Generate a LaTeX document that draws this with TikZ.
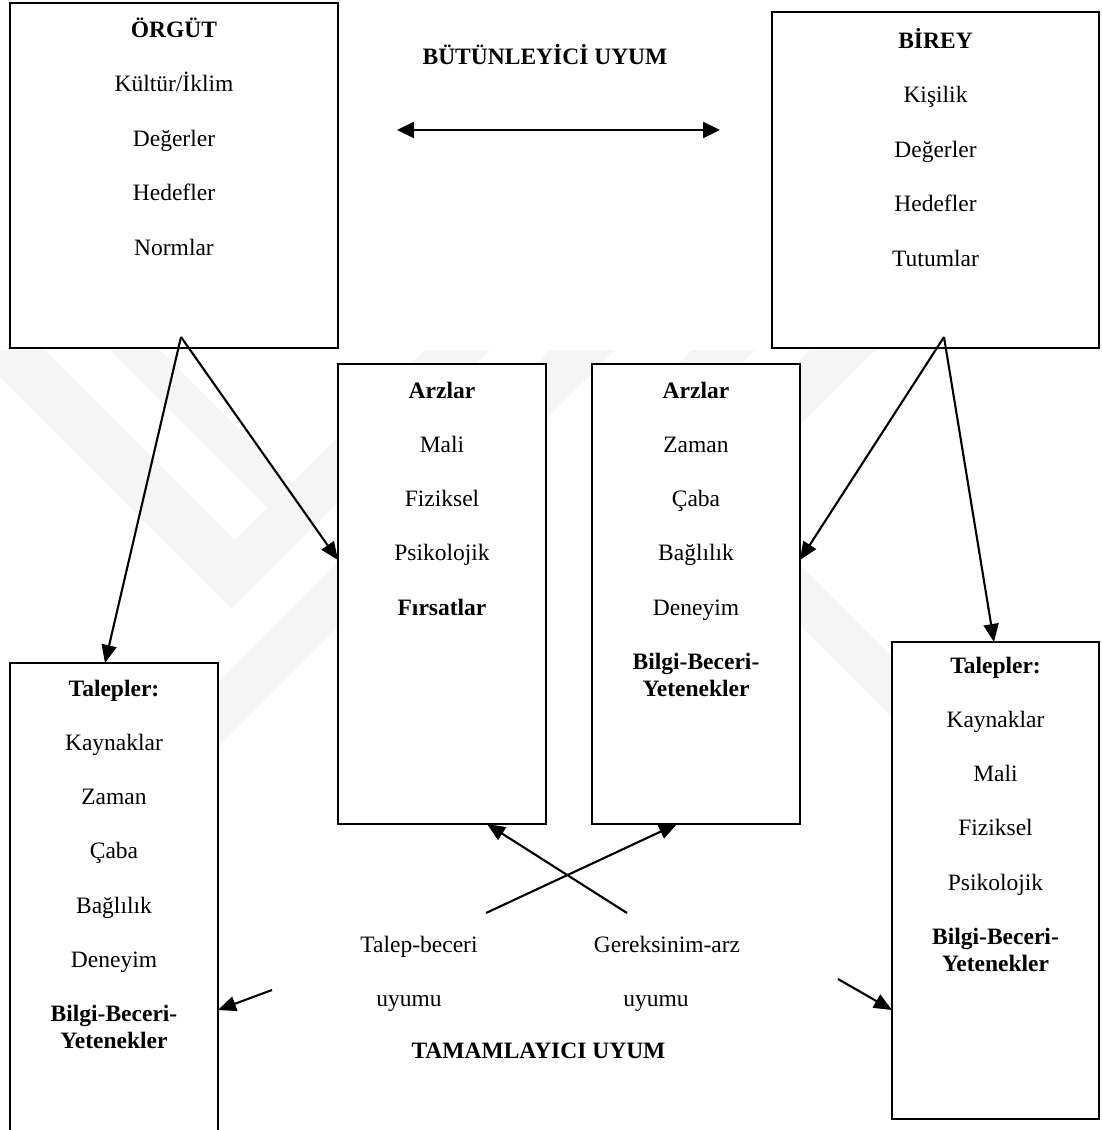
\documentclass[tikz,border=0pt]{standalone}
\usepackage{fontspec}
\setmainfont{Liberation Serif}
\usetikzlibrary{arrows.meta}
\begin{document}
\begin{tikzpicture}[x=1pt,y=-1pt,
  box/.style={draw, line width=1.9pt, fill=white, rectangle, inner sep=0pt, outer sep=0pt},
  lbl/.style={anchor=base, inner sep=0pt, font=\fontsize{23.5}{28}\selectfont},
  hd/.style={anchor=base, inner sep=0pt, font=\fontsize{23.5}{28}\selectfont\bfseries},
  arr/.style={line width=2.1pt, -{Triangle[length=18pt,width=15pt]}},
  dbl/.style={line width=2.3pt, {Triangle[length=17pt,width=16pt]}-{Triangle[length=17pt,width=16pt]}},
  wm/.style={fill=black!4}
]
\useasboundingbox (0,0) rectangle (1101,1130);
\clip (0,0) rectangle (1101,1130);
\fill[white] (0,0) rectangle (1101,1130);

% faint background emblem
\fill[wm] (0,350) -- (45,350) -- (235,540) -- (199,576) -- (0,377) -- cycle;
\fill[wm] (110,350) -- (160,350) -- (292.5,482.5) -- (267.5,507.5) -- cycle;
\fill[wm] (425,350) -- (490,350) -- (231.5,608.5) -- (199,576) -- cycle;
\fill[wm] (550,350) -- (615,350) -- (205,760) -- (140,760) -- cycle;
\fill[wm] (692,350) -- (755,350) -- (665,440) -- (602,440) -- cycle;
\fill[wm] (810,350) -- (875,350) -- (725,500) -- (660,500) -- cycle;
\fill[wm] (700,465) -- (995,760) -- (935,760) -- (700,525) -- cycle;

% boxes
\node[box, minimum width=328pt, minimum height=345pt] (org) at (174,175.5) {};
\node[box, minimum width=327pt, minimum height=336pt] (bir) at (935.5,180) {};
\node[box, minimum width=208pt, minimum height=460pt] (ofa) at (442,594) {};
\node[box, minimum width=208pt, minimum height=460pt] (ofb) at (696,594) {};
\node[box, minimum width=208pt, minimum height=500pt] (dml) at (114,913) {};
\node[box, minimum width=207pt, minimum height=477pt] (dmr) at (995.5,880.5) {};

% organisation
\node[hd] (org-h) at (174,37) {ÖRGÜT};
\foreach \t [count=\i] in {Kültür/İklim, Değerler, Hedefler, Normlar}
  \node[lbl] (org-\i) at (174, 37+54.5*\i) {\t};

% individual
\node[hd] (bir-h) at (935.5,48) {BİREY};
\foreach \t [count=\i] in {Kişilik, Değerler, Hedefler, Tutumlar}
  \node[lbl] (bir-\i) at (935.5, 48+54.5*\i) {\t};

% supplies of the organisation
\node[hd] (ofa-h) at (442,398) {Arzlar};
\foreach \t [count=\i] in {Mali, Fiziksel, Psikolojik}
  \node[lbl] (ofa-\i) at (442, 398+54.3*\i) {\t};
\node[hd] (ofa-f) at (442,615.2) {Fırsatlar};

% supplies of the individual
\node[hd] (ofb-h) at (696,398) {Arzlar};
\foreach \t [count=\i] in {Zaman, Çaba, Bağlılık, Deneyim}
  \node[lbl] (ofb-\i) at (696, 398+54.3*\i) {\t};
\node[hd] (ofb-b1) at (696,669.5) {Bilgi-Beceri-};
\node[hd] (ofb-b2) at (696,696.5) {Yetenekler};

% demands, left
\node[hd] (dml-h) at (114,696) {Talepler:};
\foreach \t [count=\i] in {Kaynaklar, Zaman, Çaba, Bağlılık, Deneyim}
  \node[lbl] (dml-\i) at (114, 696+54.3*\i) {\t};
\node[hd] (dml-b1) at (114,1021.8) {Bilgi-Beceri-};
\node[hd] (dml-b2) at (114,1048.8) {Yetenekler};

% demands, right
\node[hd] (dmr-h) at (995.5,673) {Talepler:};
\foreach \t [count=\i] in {Kaynaklar, Mali, Fiziksel, Psikolojik}
  \node[lbl] (dmr-\i) at (995.5, 673+54.3*\i) {\t};
\node[hd] (dmr-b1) at (995.5,944.5) {Bilgi-Beceri-};
\node[hd] (dmr-b2) at (995.5,971.5) {Yetenekler};

% titles and fit labels
\node[hd] (top) at (545,64) {BÜTÜNLEYİCİ UYUM};
\node[hd] (bottom) at (538.5,1058.5) {TAMAMLAYICI UYUM};
\node[lbl] (tb1) at (419,952) {Talep-beceri};
\node[lbl] (tb2) at (409,1006) {uyumu};
\node[lbl] (ga1) at (667,952) {Gereksinim-arz};
\node[lbl] (ga2) at (656,1006) {uyumu};

% connectors
\coordinate (orgtip) at (181,337);
\coordinate (birtip) at (944,337);
\draw[arr] (orgtip) -- (dml.north -| 105,0);
\draw[arr] (orgtip) -- (ofa.west |- 0,560);
\draw[arr] (birtip) -- (ofb.east |- 0,560);
\draw[arr] (birtip) -- (dmr.north -| 994,0);

\coordinate (bl) at (397,130);
\coordinate (br) at (720,130);
\draw[dbl] (bl) -- (br);

\coordinate (tbs) at (486,913);
\coordinate (gas) at (627,913);
\draw[arr] (tbs) -- (ofb.south -| 677,0);
\draw[arr] (gas) -- (ofa.south -| 487,0);

\coordinate (ls) at (272,990);
\coordinate (rs) at (838,979);
\draw[arr] (ls) -- (dml.east |- 0,1010);
\draw[arr] (rs) -- (dmr.west |- 0,1010);
\end{tikzpicture}
\end{document}
